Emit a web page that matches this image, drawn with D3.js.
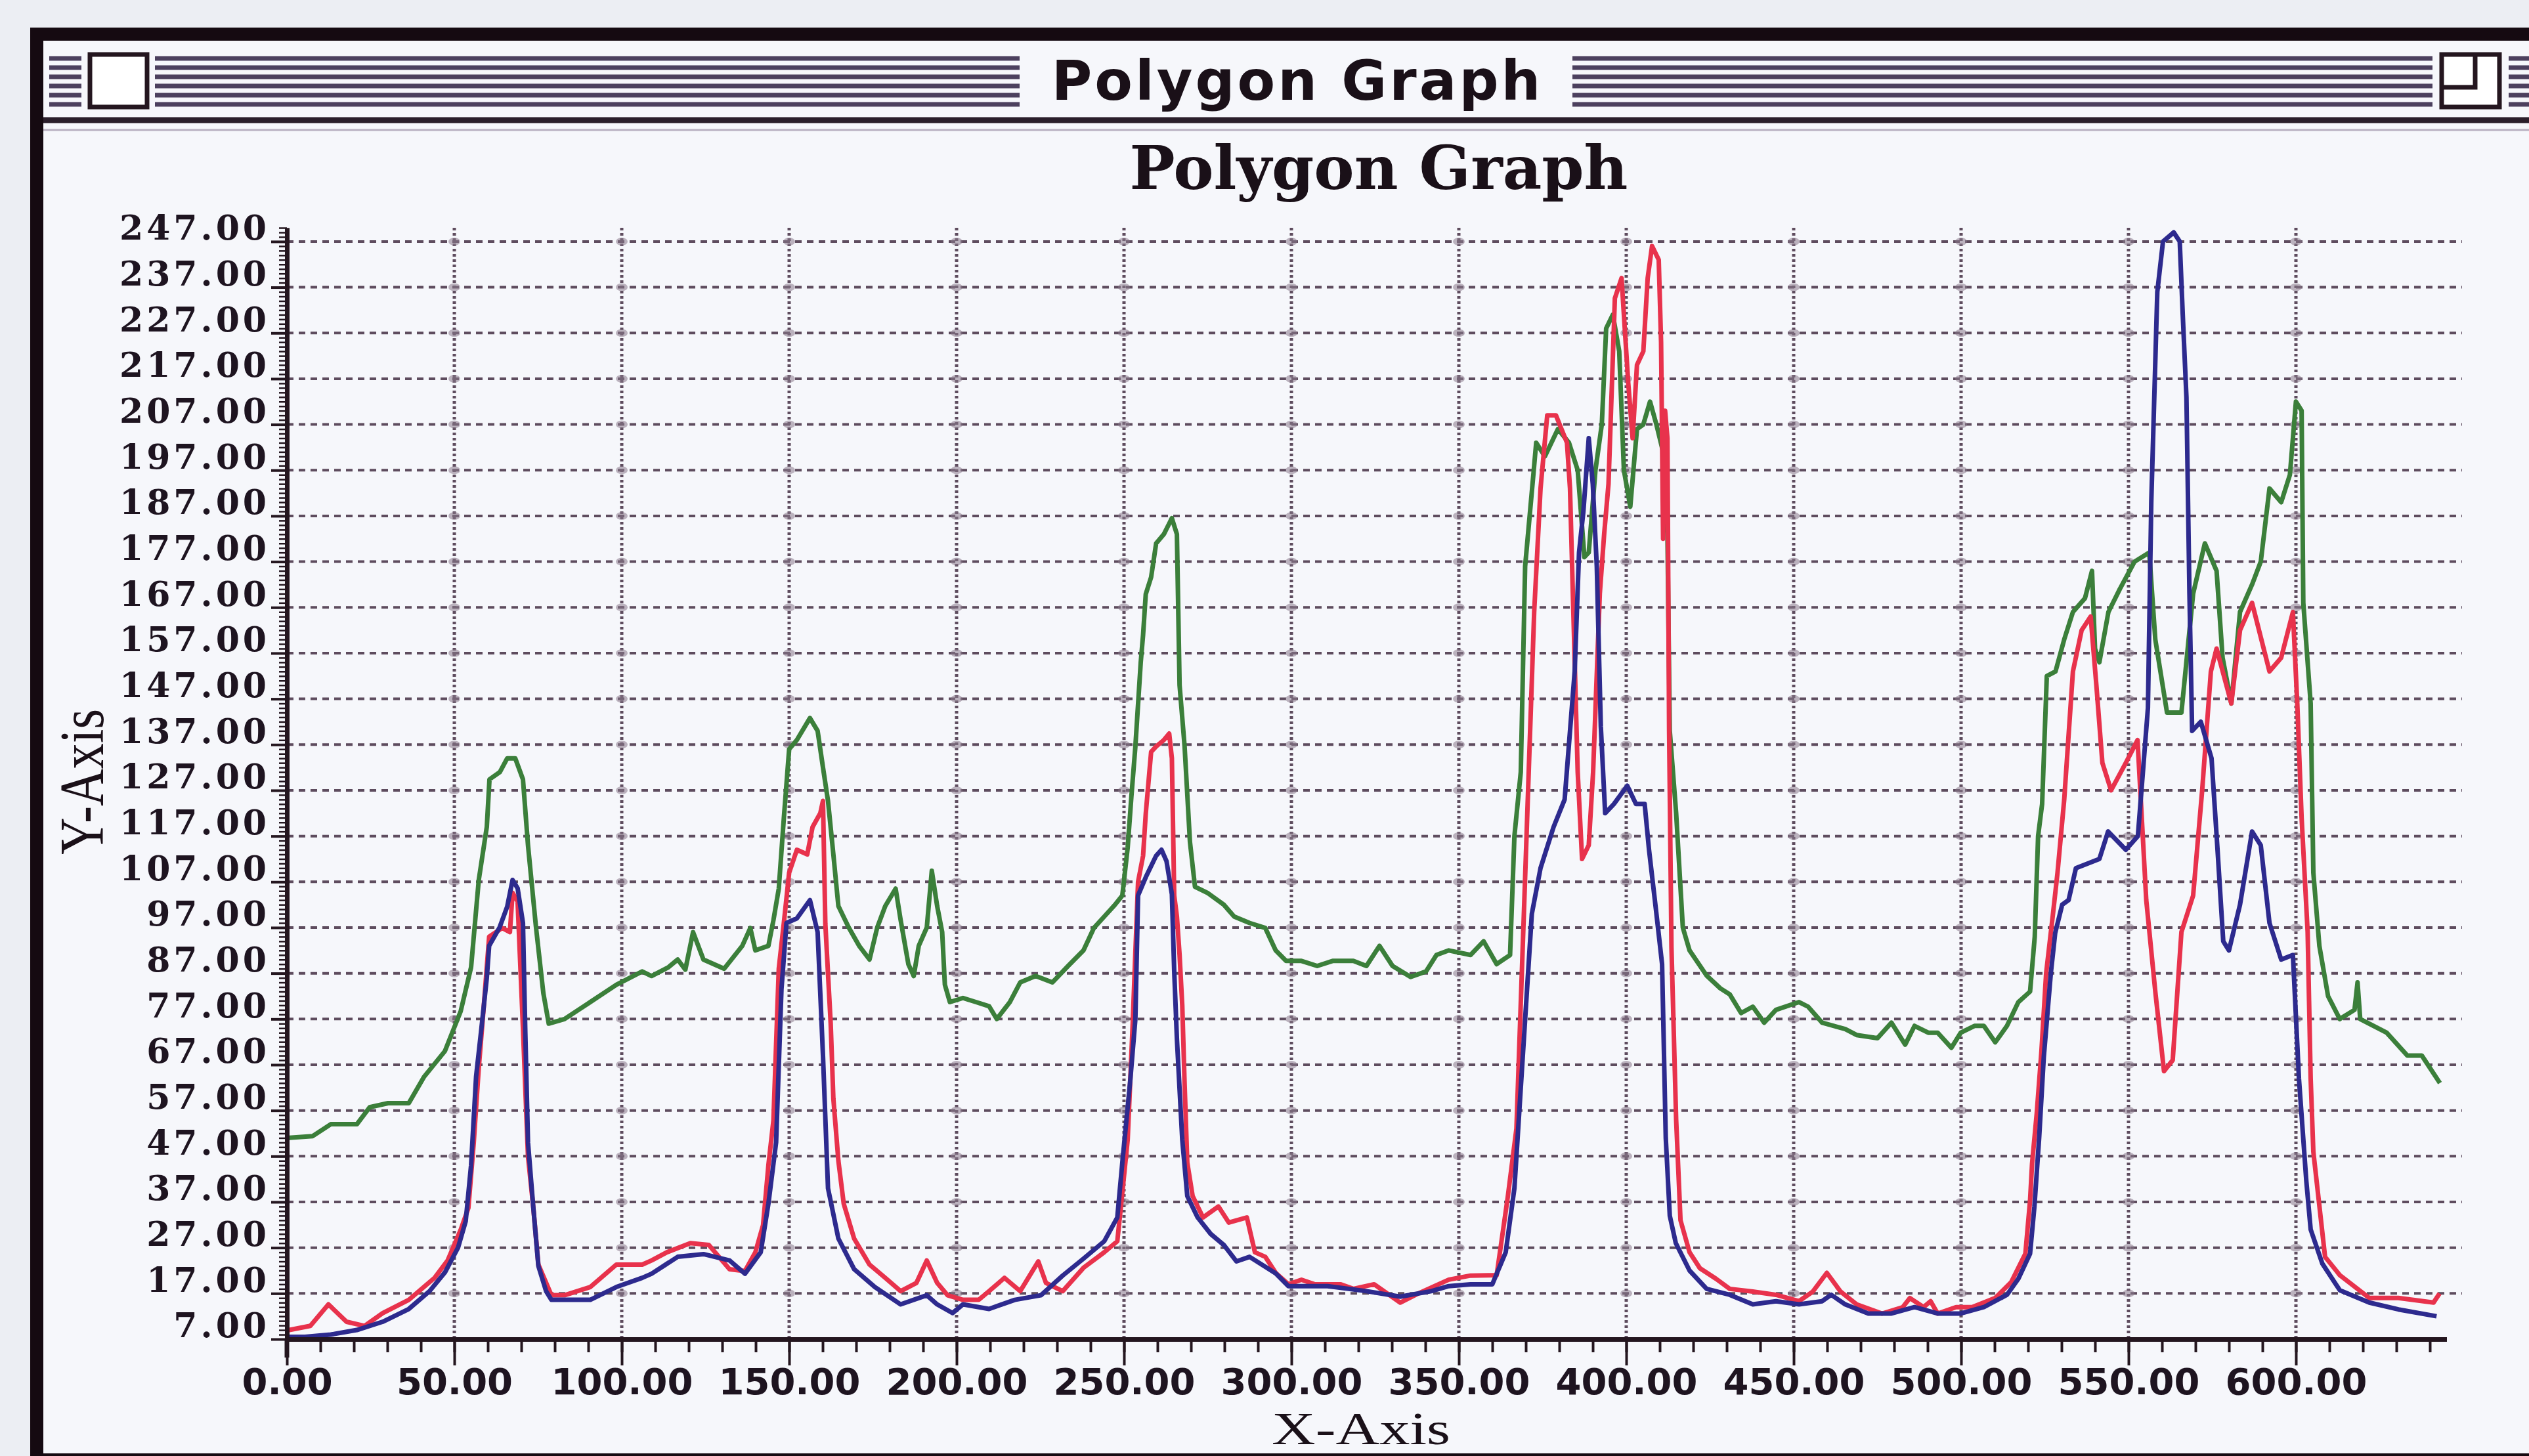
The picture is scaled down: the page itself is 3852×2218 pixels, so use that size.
<!DOCTYPE html>
<html>
<head>
<meta charset="utf-8">
<script src="https://cdn.jsdelivr.net/npm/d3@7"></script>
<style>
  html, body { margin: 0; padding: 0; background: #eceef3; }
  svg { display: block; }
</style>
</head>
<body>
<svg id="chart" width="3852" height="2218"></svg>
<script>
// ---------------- DATA ----------------
const windowTitle = "Polygon Graph";
const chartTitle = "Polygon Graph";
const xAxisTitle = "X-Axis";
const yAxisTitle = "Y-Axis";

const xTicks = d3.range(0, 601, 50);        // 0.00 ... 600.00
const yTicks = d3.range(7, 248, 10);        // 7.00 ... 247.00
const xMinorTicks = d3.range(0, 641, 10);
const yMinorTicks = d3.range(7, 251, 1);

const greenSeries = [[0,51],[7.7,51.4],[13.1,54],[20.9,54],[24.7,57.7],[30.2,58.6],[36.4,58.6],[41,64.4],[47.2,70],[51.9,78.7],[55,88.3],[57.3,107.4],[59.7,119],[60.5,129.4],[63.6,131],[65.8,134],[68.2,134],[70.5,129.4],[72,115],[74.4,97],[76.6,82.6],[78.2,76],[82.9,77],[90.6,80.7],[98.4,84.5],[106.1,87.4],[108.9,86.4],[113.9,88.3],[116.7,90],[119,87.8],[121.3,96],[124.4,90],[130.6,88],[136,93],[138.4,96.9],[139.9,92],[143.8,93],[145.3,98.6],[146.9,105.5],[148.4,120.8],[150,136],[152.3,138],[156.2,142.8],[158.5,140],[160.1,132],[161.6,124.7],[163.2,113],[164.7,101.7],[167.8,97],[170.9,93],[174,90],[176.3,97],[178.7,101.7],[181.8,105.5],[183.3,98.6],[185.6,89],[187.2,86.4],[188.7,93],[191.1,97],[192.6,109.4],[194.2,101.7],[195.7,96],[196.5,84.5],[198,80.7],[201.9,81.6],[205.8,80.7],[209.7,79.8],[212,77],[215.9,80.7],[219,85],[223.6,86.4],[228.6,85],[233.3,88.6],[237.9,92],[241,96.9],[244.1,99.4],[247.2,101.9],[249.5,104],[251.1,114.5],[252.2,125.6],[253.4,136.6],[255,155],[255.7,161],[256.5,169.9],[258.1,173.6],[259.6,181],[261.9,183],[264.3,186.5],[265.8,183],[266.6,150],[268.1,136.6],[269.7,115.7],[271.2,105.9],[275.1,104.5],[279.8,102],[282.9,99.4],[287.5,98],[292.2,96.9],[295.3,92],[298.4,89.7],[303,89.7],[307.7,88.6],[312.3,89.7],[318.5,89.7],[322.4,88.6],[326.3,93],[330.2,88.6],[335.6,86.2],[340.2,87.4],[343.3,91],[347,92],[353.5,91],[357.4,94],[361.3,89],[365.3,91],[366.6,117],[368.5,131],[369.8,176],[372.5,198],[373.1,203],[375.7,200],[379.6,206],[382.9,203],[385.5,197],[387.5,178],[388.8,179],[390.8,197],[392.7,207],[394,228],[396,231],[397.9,223],[399.3,197],[401.2,189],[403.2,206],[405.1,207],[407.1,212],[409,207],[411,201],[412.3,183],[413,140],[414.9,122],[416.9,97],[418.9,92],[424,86.5],[428.1,83.7],[430.9,82.4],[434.3,78.3],[437.8,79.7],[441.2,76.2],[444.7,79],[451.6,80.7],[454.3,79.7],[458.5,76.2],[465.4,74.8],[468.8,73.5],[475,72.8],[479.2,76.2],[483.3,71.4],[486.1,75.5],[490.2,74],[493,74],[497.1,70.7],[499.9,74],[504,75.5],[506.8,75.5],[510.2,71.9],[513.7,75.5],[517.1,80.7],[520.6,83],[522,95],[523,117],[524.2,124],[525.6,152],[528.2,153],[530.8,160],[533.4,166],[537,169],[539.1,175],[540,158],[541.3,155],[544,166],[547.4,171],[551.8,177],[556.2,179],[558,160],[561.5,144],[565.8,144],[569.3,170],[572.8,181],[576.3,175],[578.1,156],[580.7,146],[583.3,166],[586.9,172],[589.5,177],[592.1,193],[595.6,190],[598.2,196],[600,212],[601.7,210],[602.2,168],[604.4,146],[605.2,109],[607,93],[609.6,82],[613.1,77],[617.5,79],[618.4,85],[619.2,77],[627.1,74],[633.3,69],[637.6,69],[643,63]];

const redSeries = [[0,8.9],[7,9.9],[12.4,14.6],[17.8,10.8],[23.2,9.9],[28.6,12.7],[36.4,15.6],[44.1,20.4],[48,24.2],[51.9,30.9],[54.2,35.7],[55.8,50],[57.3,66.3],[58.9,80.7],[60.4,95],[64.3,96.9],[66.6,96],[67.4,104.6],[68.9,102.7],[70.5,75],[72,47],[73.6,35.7],[75.1,23.3],[79,16.6],[82.9,16.6],[90.6,18.4],[98.4,23.3],[106.1,23.3],[108.9,24.2],[113.5,26],[120.5,28],[126,27.6],[132.2,22.3],[136.8,21.9],[139.9,26],[142.2,31.9],[143.8,45],[145.3,54.8],[146.9,88],[148.4,97.9],[150,109],[152.3,114],[155.4,113],[157,119],[159.3,122],[160.1,124.7],[160.8,97.9],[162.4,76],[163.2,59.6],[164.7,46],[166.3,36.6],[169.4,29],[174,23.3],[178.7,20.4],[183.3,17.5],[188,19.3],[191.1,24.2],[194.2,19.3],[197.3,16.6],[201.9,15.6],[206.6,15.6],[209.7,17.5],[214.3,20.4],[219,17.5],[224.4,24],[226.7,19.3],[231.7,17.5],[237.9,22.6],[244.1,26],[248,28.4],[248.8,34],[251.1,50.6],[252.6,76],[254.2,107],[255.7,112.7],[256.5,121.9],[258.1,135.4],[259.6,136.6],[261.9,138],[263.5,139.4],[264.3,134],[265,104],[265.8,99.4],[266.6,91],[267.4,80],[268.1,62.8],[268.9,45.6],[270.5,38.3],[273.6,33.6],[278.2,36],[281.3,32.5],[286.7,33.6],[289.1,26],[292.2,25],[295.3,21.5],[299.1,19],[303,20],[306.9,19],[314.6,19],[318.5,18],[324.7,19],[332.5,15],[337.9,17],[347,20],[353.5,20.9],[361.3,21],[364.6,38],[367.2,53],[369.8,108],[372.5,166],[374.4,193],[376.4,209],[379,209],[382.3,203],[383.2,193],[384.2,166],[385.5,131],[386.8,112],[388.8,115],[390.1,131],[392.1,170],[393.4,183],[394.7,194],[396.6,234.6],[398.6,239],[400.6,216],[401.9,204],[403.2,220],[405.1,223],[406.4,239],[407.7,246],[409.7,243],[410.4,225],[411,182],[411.6,210],[412.3,204],[412.8,140],[413.5,92.7],[414.9,55],[416.2,33],[418.9,26],[422,22.5],[426.8,20.2],[430.9,18],[437.8,17.4],[444.7,16.7],[451.6,15.3],[455.7,17.4],[459.9,21.5],[464,17.4],[468.8,14.6],[476.4,12.6],[482.6,14],[484.7,16],[488.8,14],[490.9,15.3],[493,12.6],[498.5,14],[503.3,14],[510.2,16],[515,19.5],[519.2,25.7],[520.6,37.3],[521.2,45.4],[522.6,56.4],[524,70],[525.4,87],[527.4,99.7],[528.8,109],[530.8,125],[533.4,153],[536,162],[538.7,165],[540.4,150],[542.2,133],[544.8,127],[549.2,133],[552.7,138],[555.3,103],[558,83],[560.6,65.6],[563.2,68],[565.8,96],[569.3,104],[572,127],[574.6,153],[576.3,158],[580.7,146],[583.3,162],[586.9,168],[592.1,153],[595.6,156],[599.1,166],[600.4,146],[601.7,121],[603.5,96],[604.4,64],[605.2,48],[608.7,25],[613.1,21],[621.9,16],[630.6,16],[641.1,15],[642.9,17]];

const blueSeries = [[0,7.5],[5.4,7.5],[13.1,8],[20.9,9],[28.6,10.8],[36.4,13.6],[42.6,17.5],[47.2,21.6],[51.1,27],[53.4,32.8],[55,45],[56.5,64.4],[58.1,75],[59.7,86],[60.4,93],[63.5,97],[65.8,101.6],[67.4,107.4],[68.9,105.6],[70.5,98],[71.2,74],[72,50],[73.6,35.7],[75.1,23],[77.4,17.5],[79,15.6],[90.6,15.6],[98.4,18.4],[106.1,20.4],[108.9,21.3],[116.7,25],[124.4,25.6],[132.2,24.2],[136.8,21.3],[141.5,26],[143.8,36.6],[146.1,50],[147.7,83.5],[149.2,98],[152.3,99],[156.2,103],[158.5,96],[160.1,69],[161.6,40],[164.7,29],[169.4,22.3],[175.6,18.4],[183.3,14.6],[191.1,16.6],[194.2,14.6],[198.8,12.7],[201.9,14.6],[209.7,13.6],[217.4,15.6],[225.2,16.6],[231.7,20.9],[237.9,24.6],[244.1,28.4],[248,33.6],[249.5,45.6],[251.9,63.8],[253.4,77],[254.2,104],[256.5,108],[259.6,112.7],[261.2,114],[262.7,111.5],[264.3,104.3],[265,87.4],[265.8,72.7],[267.4,50.6],[268.9,38.3],[272,33.6],[275.9,30],[279.8,27.6],[283.6,24],[287.5,25],[295.3,21.4],[299.1,18.6],[310.8,18.6],[322.4,17.5],[332.5,16.3],[341.8,17.5],[347,18.6],[353.5,19],[360,19],[364,26],[366.6,40],[369.2,70],[371.8,100],[374.4,110],[378.3,119],[381.6,125],[384.6,153],[385.9,179],[387.2,188],[388.8,204],[390,194],[391.2,176],[392.4,141],[393.7,122],[396.3,124],[400.3,128],[402.9,124],[405.5,124],[406.8,114],[408.7,102],[410.7,89],[411.8,51],[413,34],[414.8,28],[418.9,22],[424,18],[430.9,16.7],[437.8,14.6],[444.7,15.3],[451.6,14.6],[458.5,15.3],[461.2,16.7],[465.4,14.6],[472.3,12.6],[479.2,12.6],[486.1,14],[493,12.6],[499.9,12.6],[506.8,14],[513.7,16.7],[517.1,20.2],[520.6,25.7],[521.9,36],[523.3,50.9],[524.7,68.7],[526.8,87],[528.1,95.8],[530.2,102],[532.1,103],[534.3,110],[541.3,112],[543.9,118],[549.2,114],[552.8,117],[555.8,145],[556.8,190],[558.6,236],[560.3,247],[563.5,249],[565.3,247],[566.2,231],[567.3,213],[568.2,170],[569,140],[571.6,142],[574.8,134],[576.5,115],[578.3,94],[580,92],[583.3,102],[586.9,118],[589.5,115],[592.1,98],[595.6,90],[599.1,91],[600.9,64],[603.1,41.6],[604.4,31],[607.9,23.5],[613.1,17.7],[621.9,15],[630.6,13.5],[642,12]];

// ---------------- DRAW ----------------
const svg = d3.select("#chart");
const ink = "#24161f";
const gridCol = "#5e4c5e";

// outside background
svg.append("rect").attr("x",0).attr("y",0).attr("width",3852).attr("height",2218).attr("fill","#eceef3");
// window
svg.append("rect").attr("x",56).attr("y",52).attr("width",3900).attr("height",2172)
  .attr("fill","#f6f7fb").attr("stroke","#150a11").attr("stroke-width",20);

// title bar stripes
const stripeY = [89,103,117,131,145,159];
const stripeSegs = [[75,124],[236,1553],[2395,3705],[3821,3852]];
const tb = svg.append("g");
stripeSegs.forEach(s => {
  stripeY.forEach(yy => {
    tb.append("line").attr("x1",s[0]).attr("x2",s[1]).attr("y1",yy).attr("y2",yy)
      .attr("stroke","#4c405e").attr("stroke-width",7);
  });
});
// close box
tb.append("rect").attr("x",137).attr("y",83).attr("width",87).attr("height",80)
  .attr("fill","#ffffff").attr("stroke",ink).attr("stroke-width",7);
// zoom box
tb.append("rect").attr("x",3719).attr("y",83).attr("width",88).attr("height",80)
  .attr("fill","#ffffff").attr("stroke",ink).attr("stroke-width",7);
tb.append("path").attr("d","M3719,133 H3770 V83").attr("fill","none").attr("stroke",ink).attr("stroke-width",7);
// title bar bottom line
tb.append("line").attr("x1",66).attr("x2",3852).attr("y1",183).attr("y2",183).attr("stroke","#2a1e2a").attr("stroke-width",9);
tb.append("line").attr("x1",66).attr("x2",3852).attr("y1",198).attr("y2",198).attr("stroke","#b8b0c0").attr("stroke-width",3);
// window title text
tb.append("text").attr("x",1976).attr("y",152).attr("text-anchor","middle")
  .attr("font-family","'DejaVu Sans', sans-serif").attr("font-weight","bold")
  .attr("font-size",84).attr("letter-spacing",4).attr("fill","#1a1018").text(windowTitle);

// chart title
svg.append("text").attr("x",2100).attr("y",288).attr("text-anchor","middle")
  .attr("font-family","'DejaVu Serif', serif").attr("font-weight","bold")
  .attr("font-size",92).attr("fill","#1a1018").text(chartTitle);

// scales
const x = d3.scaleLinear().domain([0, 645]).range([437, 437 + 645 * 5.1]);
const y = d3.scaleLinear().domain([7, 250]).range([2040, 2040 - 243 * 6.967]);

// grid
const grid = svg.append("g");
grid.selectAll("line.h").data(yTicks.filter(d => d > 7)).join("line")
  .attr("x1", x(0)).attr("x2", 3750).attr("y1", d => y(d)).attr("y2", d => y(d))
  .attr("stroke", gridCol).attr("stroke-width", 4).attr("stroke-dasharray", "10,8");
grid.selectAll("line.v").data(xTicks.filter(d => d > 0)).join("line")
  .attr("x1", d => x(d)).attr("x2", d => x(d)).attr("y1", y(250)).attr("y2", y(7))
  .attr("stroke", gridCol).attr("stroke-width", 5).attr("stroke-dasharray", "4,4");
const inter = [];
xTicks.filter(d => d > 0).forEach(a => yTicks.filter(d => d > 7).forEach(b => inter.push([a, b])));
grid.selectAll("ellipse").data(inter).join("ellipse")
  .attr("cx", d => x(d[0])).attr("cy", d => y(d[1])).attr("rx", 9).attr("ry", 6)
  .attr("fill", "#8a7a8c").attr("opacity", 0.55);

// series
const line = d3.line().x(d => x(d[0])).y(d => y(d[1]));
const plot = svg.append("g");
[[greenSeries, "#3b7f3a"], [redSeries, "#e8324c"], [blueSeries, "#2d2a8e"]].forEach(([s, c]) => {
  plot.append("path").datum(s).attr("d", line).attr("fill", "none")
    .attr("stroke", c).attr("stroke-width", 7).attr("stroke-linejoin", "round");
});

// axes
const fmt = d3.format(".2f");
const xMinor = svg.append("g").attr("transform", `translate(0,${y(7)})`)
  .call(d3.axisBottom(x).tickValues(xMinorTicks).tickSize(20).tickSizeOuter(0).tickFormat(""));
const xMajor = svg.append("g").attr("transform", `translate(0,${y(7)})`)
  .call(d3.axisBottom(x).tickValues(xTicks).tickSize(40).tickSizeOuter(0).tickPadding(4).tickFormat(fmt));
const yMinor = svg.append("g").attr("transform", `translate(${x(0)},0)`)
  .call(d3.axisLeft(y).tickValues(yMinorTicks).tickSize(12).tickSizeOuter(0).tickFormat(""));
const yMajor = svg.append("g").attr("transform", `translate(${x(0)},0)`)
  .call(d3.axisLeft(y).tickValues(yTicks).tickSize(24).tickSizeOuter(0).tickPadding(2).tickFormat(fmt));

[xMinor, xMajor, yMinor, yMajor].forEach(g => {
  g.select(".domain").attr("stroke", ink).attr("stroke-width", 7);
  g.selectAll(".tick line").attr("stroke", ink).attr("stroke-width", 4);
});
yMinor.selectAll(".tick line").attr("stroke-width", 2.5);
xMajor.selectAll("text").attr("font-family", "'DejaVu Sans', sans-serif").attr("font-weight", "bold")
  .attr("font-size", 56).attr("fill", "#1e1420");
yMajor.selectAll("text").attr("font-family", "'DejaVu Serif', serif").attr("font-weight", "bold")
  .attr("font-size", 52).attr("letter-spacing", 5).attr("dy", "-0.06em").attr("fill", "#1e1420");
// small extension of y axis below the x axis
svg.append("line").attr("x1", x(0)).attr("x2", x(0)).attr("y1", y(7)).attr("y2", y(7) + 28)
  .attr("stroke", ink).attr("stroke-width", 7);

// axis titles
svg.append("text").attr("x", 2073).attr("y", 2200).attr("text-anchor", "middle")
  .attr("font-family", "'Liberation Serif', serif").attr("font-size", 70)
  .attr("textLength", 272).attr("lengthAdjust", "spacingAndGlyphs")
  .attr("fill", "#1a1018").text(xAxisTitle);
svg.append("text").attr("transform", "translate(157,1191) rotate(-90)").attr("text-anchor", "middle")
  .attr("font-family", "'Liberation Serif', serif").attr("font-size", 95)
  .attr("textLength", 222).attr("lengthAdjust", "spacingAndGlyphs")
  .attr("fill", "#1a1018").text(yAxisTitle);
</script>
</body>
</html>
